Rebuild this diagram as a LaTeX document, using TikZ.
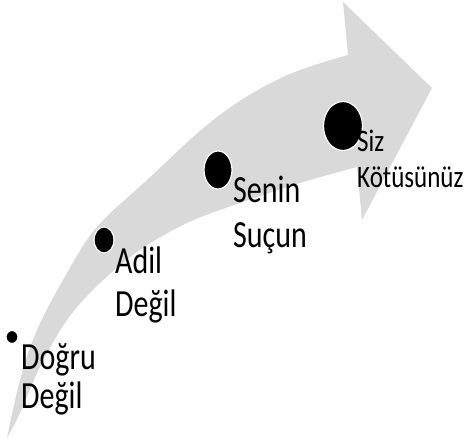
\documentclass[tikz,border=0pt]{standalone}
\usepackage{fontspec}
\setmainfont{Carlito}
\usepackage{graphicx}
\usetikzlibrary{shapes.geometric}
\definecolor{arrowgray}{RGB}{217,217,217}
\newcommand\twoline[5]{\fontsize{#1}{#1}\selectfont\vtop{\baselineskip=#3\relax\lineskiplimit=-100pt\hbox{\scalebox{1}[#2]{#4}}\hbox{\scalebox{1}[#2]{#5}}}}
\begin{document}
\begin{tikzpicture}[x=1pt,y=-1pt,
  dot/.style={ellipse,fill=black,draw=white,line width=1.2pt,inner sep=0pt},
  lbl/.style={anchor=base west,inner sep=0pt,text=black}]
\useasboundingbox (0,0) rectangle (467,446);
\fill[arrowgray] plot[smooth,tension=0.6] coordinates {(7,438) (20,380) (37,330) (67,273) (97,227) (147,180) (217,117) (283,77) (348,55)}
  -- (343,2) -- (432,88) -- (362,220) -- (357,167)
  -- plot[smooth,tension=0.6] coordinates {(357,167) (300,183) (240,203) (187,223) (140,250) (100,283) (67,320) (40,367) (20,413) (7,438)} -- cycle;
\node[dot,minimum width=12pt,minimum height=13pt] (d1) at (12,337) {};
\node[dot,minimum width=20pt,minimum height=26pt] (d2) at (104,240) {};
\node[dot,minimum width=28pt,minimum height=38pt] (d3) at (218,170) {};
\node[dot,minimum width=39pt,minimum height=49pt] (d4) at (343,126) {};
\node[lbl] (t1) at (21,370) {\twoline{30pt}{1.28}{39pt}{Doğru}{Değil}};
\node[lbl] (t2) at (115,274) {\twoline{30pt}{1.28}{43pt}{Adil}{Değil}};
\node[lbl] (t3) at (233,203) {\twoline{30pt}{1.28}{45pt}{Senin}{Suçun}};
\node[lbl] (t4) at (357,152) {\twoline{25pt}{1.25}{36pt}{Siz}{Kötüsünüz}};
\end{tikzpicture}
\end{document}
